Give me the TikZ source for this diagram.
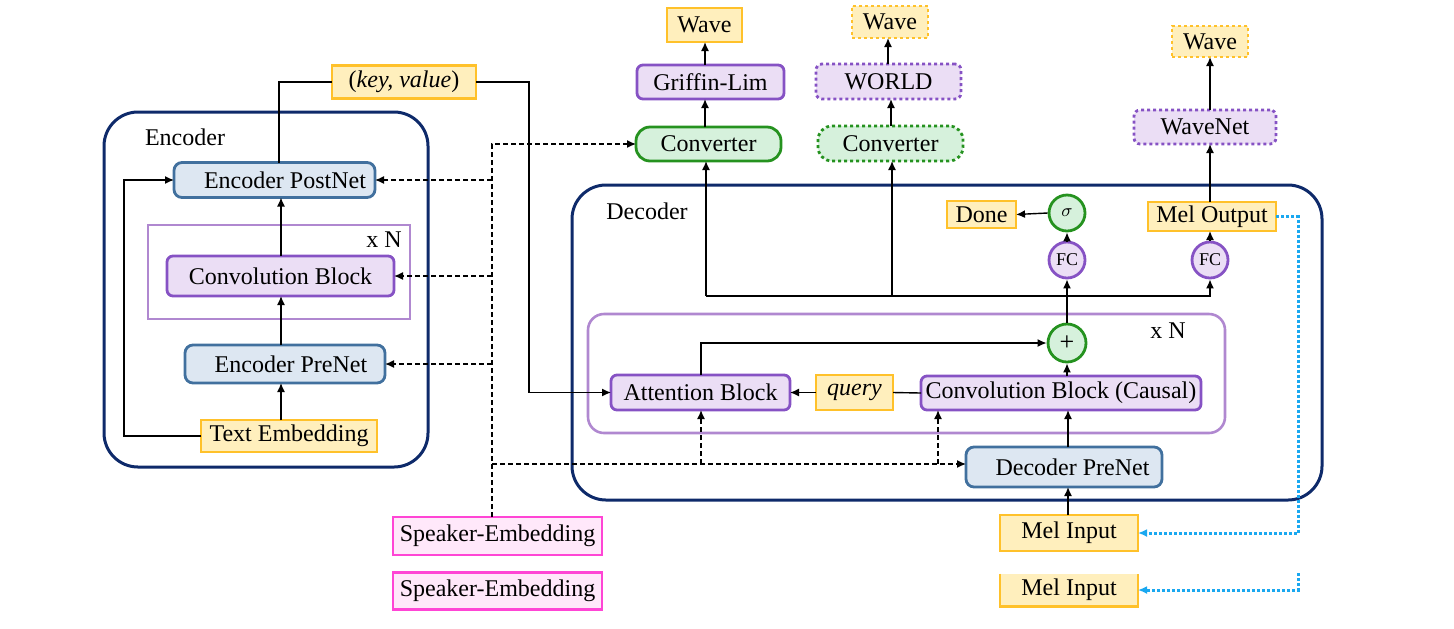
\documentclass[tikz,border=0pt]{standalone}
\usepackage{fontspec}
\setmainfont{Liberation Serif}
\usetikzlibrary{arrows.meta}
\definecolor{yfill}{HTML}{FFEFBD}
\definecolor{yline}{HTML}{FFC12A}
\definecolor{bfill}{HTML}{DDE7F2}
\definecolor{bline}{HTML}{41709E}
\definecolor{pfill}{HTML}{EBDEF5}
\definecolor{pline}{HTML}{8652C4}
\definecolor{nline}{HTML}{B088D0}
\definecolor{gfill}{HTML}{D6F1DC}
\definecolor{gline}{HTML}{25921F}
\definecolor{navy}{HTML}{0E2A6A}
\definecolor{kfill}{HTML}{FFE8FA}
\definecolor{kline}{HTML}{FF45D5}
\definecolor{sky}{HTML}{1AA8F0}
\begin{document}
\begin{tikzpicture}[x=0.5pt,y=-0.5pt,
  nodebox/.style={draw, line width=1.4pt, inner sep=0pt, outer sep=0pt, font=\rmfamily\fontsize{12}{14}\selectfont},
  ybox/.style={nodebox, fill=yfill, draw=yline},
  bbox/.style={nodebox, fill=bfill, draw=bline, rounded corners=4pt},
  pbox/.style={nodebox, fill=pfill, draw=pline, rounded corners=3pt},
  gbox/.style={nodebox, fill=gfill, draw=gline, rounded corners=7pt},
  kbox/.style={nodebox, fill=kfill, draw=kline},
  dotb/.style={dash pattern=on 1.5pt off 1.5pt},
  circ/.style={circle, draw, line width=1.4pt, inner sep=0pt, minimum size=18pt, font=\rmfamily\fontsize{9}{10}\selectfont},
  arr/.style={line width=0.7pt, -{Latex[length=4.5pt,width=4pt]}},
  ln/.style={line width=0.7pt},
  dsh/.style={line width=0.7pt, dash pattern=on 2.5pt off 1.5pt},
  bdot/.style={line width=1.5pt, draw=sky, dash pattern=on 1.5pt off 1pt, -{Latex[length=4.5pt,width=4pt,fill=sky]}},
  outerbox/.style={draw=navy, line width=1.5pt, rounded corners=17pt},
  nbox/.style={draw=nline, line width=1.3pt},
  lbl/.style={font=\rmfamily\fontsize{12}{14}\selectfont, inner sep=0pt}
]
\useasboundingbox (0,0) rectangle (1454,628);

% outer boxes
\draw[outerbox] (104,112) rectangle (428,467);
\draw[outerbox] (572,185) rectangle (1322,500);
\draw[nbox] (148,225) rectangle (410,319);
\draw[nbox, rounded corners=8pt] (588,314) rectangle (1225,433);
\node[lbl] (enclbl) at (185,137) {Encoder};
\node[lbl] (declbl) at (647,211) {Decoder};
\node[lbl] (encN) at (384,240) {x N};
\node[lbl] (decN) at (1168,331) {x N};

% encoder nodes
\node[bbox, minimum width=100.5pt, minimum height=17.5pt] (encpost) at (274.5,180) {\hspace{10.5pt}Encoder PostNet};
\node[pbox, minimum width=113.5pt, minimum height=20pt] (conv) at (280.5,276) {Convolution Block};
\node[bbox, minimum width=100pt, minimum height=19pt] (encpre) at (285,364) {\hspace{6pt}Encoder PreNet};
\node[ybox, minimum width=88pt, minimum height=16pt] (textemb) at (289,436) {Text Embedding};
\node[ybox, minimum width=72pt, minimum height=16.5pt] (kv) at (404,82) {(\textit{key, value})};

% top outputs
\node[ybox, minimum width=37.5pt, minimum height=17pt] (wave1) at (704.5,25) {Wave};
\node[pbox, minimum width=73.5pt, minimum height=17pt] (griffin) at (710.5,82) {Griffin-Lim};
\node[gbox, minimum width=72.5pt, minimum height=17pt] (conv1) at (708.5,144) {Converter};
\node[ybox, dotb, minimum width=38pt, minimum height=16pt] (wave2) at (890,22) {Wave};
\node[pbox, dotb, minimum width=72.5pt, minimum height=17.5pt] (world) at (888.5,81.5) {WORLD};
\node[gbox, dotb, minimum width=72.5pt, minimum height=17.5pt] (conv2) at (890.5,143.5) {Converter};
\node[ybox, dotb, minimum width=38pt, minimum height=15.5pt] (wave3) at (1210,41.5) {Wave};
\node[pbox, dotb, minimum width=71pt, minimum height=17pt] (wavenet) at (1205,127) {WaveNet};

% decoder nodes
\node[ybox, minimum width=64pt, minimum height=14.5pt] (melout) at (1212,216.5) {Mel Output};
\node[ybox, minimum width=34.5pt, minimum height=13.5pt] (done) at (981.5,214.5) {Done};
\node[circ, draw=gline, fill=gfill] (sigma) at (1067,213) {$\sigma$};
\node[circ, draw=pline, fill=pfill] (fc1) at (1067,260) {FC};
\node[circ, draw=pline, fill=pfill] (fc2) at (1210,260) {FC};
\node[circ, draw=gline, fill=gfill, minimum size=19pt, font=\fontsize{13}{13}\selectfont] (plus) at (1067,343) {+};
\node[pbox, minimum width=89.5pt, minimum height=17.5pt] (attn) at (700.5,392.5) {Attention Block};
\node[ybox, minimum width=38.5pt, minimum height=17.5pt] (query) at (854.5,392.5) {\textit{query}};
\node[pbox, minimum width=140pt, minimum height=17pt] (convc) at (1061,393) {Convolution Block (Causal)};
\node[bbox, minimum width=98pt, minimum height=20pt] (decpre) at (1064,467) {\hspace{8.5pt}Decoder PreNet};

% inputs
\node[ybox, minimum width=69pt, minimum height=18pt] (mel1) at (1069,533) {Mel Input};
\node[nodebox, draw=none, fill=yfill, minimum width=69pt, minimum height=16.5pt] (mel2) at (1069,590) {Mel Input};
\draw[draw=yline, line width=1.4pt] (mel2.north west) -- (mel2.south west) -- (mel2.south east) -- (mel2.north east);
\node[kbox, minimum width=104.5pt, minimum height=19pt] (spk1) at (497.5,536) {Speaker-Embedding};
\node[kbox, minimum width=104.5pt, minimum height=18.5pt] (spk2) at (497.5,591) {Speaker-Embedding};

% encoder connectors
\draw[arr] (textemb.north -| 281,0) -- (encpre.south -| 281,0);
\draw[arr] (encpre.north -| 281,0) -- (conv.south -| 281,0);
\draw[arr] (conv.north -| 281,0) -- (encpost.south -| 281,0);
\draw[arr] (textemb.west) -- ++(-77,0) |- (encpost.west);
\draw[ln] (encpost.north -| 279,0) |- (kv.west);
\draw[arr] (kv.east) -- ++(53,0) |- (attn.west);

% speaker embedding dashed
\draw[dsh, arr] (spk1.north -| 492,0) |- (conv1.west);
\draw[dsh, arr] (encpost.east -| 492,0) -- (encpost.east);
\draw[dsh, arr] (conv.east -| 492,0) -- (conv.east);
\draw[dsh, arr] (encpre.east -| 492,0) -- (encpre.east);
\coordinate (dline) at (492,464);
\draw[dsh, arr] (dline) -- ([yshift=1.5pt]decpre.west);
\draw[dsh, arr] (701,464) -- (attn.south -| 701,0);
\draw[dsh, arr] (938,464) -- (convc.south -| 938,0);

% decoder connectors
\draw[arr] (mel1.north -| 1068,0) -- (decpre.south -| 1068,0);
\draw[arr] (decpre.north -| 1068,0) -- (convc.south -| 1068,0);
\draw[arr] (convc.north -| plus) -- (plus.south);
\draw[ln] (convc.west) -- (query.east);
\draw[arr] (query.west) -- (attn.east);
\draw[arr] (attn.north -| 701,0) |- (plus.west);
\draw[arr] (plus.north) -- (fc1.south);
\draw[arr] (fc1.north) -- (sigma.south);
\draw[arr] (sigma.west) -- (done.east);
\draw[arr] (fc2.north) -- (melout.south -| fc2);
\draw[arr] (melout.north -| 1210,0) -- (wavenet.south -| 1210,0);
\draw[arr] (wavenet.north -| 1210,0) -- (wave3.south);
\coordinate (bus) at (706,296);
\draw[arr] (bus) -- (conv1.south -| bus);
\draw[arr] (bus) -| (fc2.south);
\draw[arr] (892,296) -- (conv2.south -| 892,0);

% vocoder connectors
\draw[arr] (conv1.north -| 705,0) -- (griffin.south -| 705,0);
\draw[arr] (griffin.north -| 705,0) -- (wave1.south -| 705,0);
\draw[arr] (conv2.north -| 891,0) -- (world.south -| 891,0);
\draw[arr] (world.north -| 888,0) -- (wave2.south -| 888,0);

% blue dotted feedback
\draw[bdot] (melout.east) -- (1298,216.5) |- (mel1.east);
\draw[bdot] (1298,573) |- (mel2.east);
\end{tikzpicture}
\end{document}
